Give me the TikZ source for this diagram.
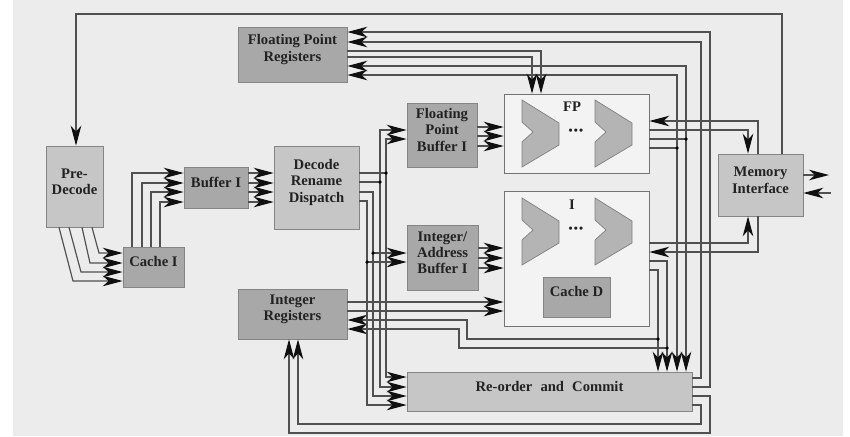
\documentclass[tikz,border=0pt]{standalone}
\usepackage{fontspec}
\setmainfont{Liberation Serif}
\usetikzlibrary{arrows.meta,fit}
\definecolor{bgc}{HTML}{ECECEC}
\definecolor{lightbox}{HTML}{C6C6C6}
\definecolor{darkbox}{HTML}{A8A8A8}
\definecolor{unitc}{HTML}{F3F3F3}
\definecolor{edgec}{HTML}{858585}
\definecolor{wirec}{HTML}{505050}
\definecolor{stagec}{HTML}{B4B4B4}
\definecolor{textc}{HTML}{222222}
\definecolor{tipc}{HTML}{101010}
\newcommand\stagepath[2]{\path[stg] (#1,#2) -- ++(37,23) -- ++(0,22) -- ++(-37,22) -- ++(0,-25) -- ++(11,-10) -- ++(-11,-10) -- cycle;}
\begin{document}
\begin{tikzpicture}[x=0.03cm,y=-0.03cm,
  lbl/.style={font=\bfseries\fontsize{12.5}{14}\selectfont, text=textc},
  boxbase/.style={draw=edgec, line width=0.6pt, inner sep=0pt, lbl, align=center},
  lbox/.style={boxbase, fill=lightbox},
  dbox/.style={boxbase, fill=darkbox},
  ubox/.style={boxbase, fill=unitc, draw=black!55},
  wire/.style={draw=wirec, line width=1pt},
  arr/.style={wire, -{Stealth[length=17pt,width=9pt,inset=5pt,color=tipc]}},
  stg/.style={fill=stagec, draw=black!50, line width=0.6pt}
]
\fill[white] (0,0) rectangle (850,436);
\fill[bgc] (13,0) rectangle (843,436);
\useasboundingbox (0,0) rectangle (850,436);

% boxes
\node[lbox, align=left, fit={(46,146) (103,227)}] (pre) {Pre-\\Decode};
\node[dbox, fit={(238,27) (347,82)}] (fpr) {Floating Point\\Registers};
\node[dbox, fit={(184,167) (248,208)}] (bi) {Buffer I};
\node[lbox, align=left, fit={(274,146) (359,229)}] (dec) {Decode\\Rename\\Dispatch};
\node[dbox, fit={(123,247) (184,287)}] (ci) {Cache I};
\node[dbox, fit={(407,103) (477,167)}] (fpb) {Floating\\Point\\Buffer I};
\node[dbox, fit={(407,225) (478,290)}] (iab) {Integer/\\Address\\Buffer I};
\node[dbox, fit={(238,289) (347,339)}] (ir) {Integer\\Registers};
\node[lbox, fit={(407,372) (692,411)}] (ro) {Re-order\hspace{0.55em}and\hspace{0.55em}Commit};
\node[ubox, fit={(504,94) (649,173)}] (fpu) {};
\node[ubox, fit={(504,191) (649,326)}] (iu) {};
\node[dbox, fit={(543,277) (610,317)}] (cd) {Cache D};
\node[lbox, fit={(718,154) (803,216)}] (mi) {Memory\\Interface};

% pipeline stages
\stagepath{522}{100}
\stagepath{595}{100}
\stagepath{522}{198}
\stagepath{595}{198}
\node[lbl] (fplab) at (572,107) {FP};
\node[lbl] (ilab) at (572,205) {I};
\node[lbl, font=\bfseries\fontsize{10}{10}\selectfont] (fpdots) at (576,132) {•\hspace{1pt}•\hspace{1pt}•};
\node[lbl, font=\bfseries\fontsize{10}{10}\selectfont] (idots) at (576,230) {•\hspace{1pt}•\hspace{1pt}•};

% top loop
\draw[arr] (mi.north -| 782,0) |- (76,14) -- (pre.north -| 76,0);

% FP registers
\draw[arr] (ro.east |- 0,387) -| (710,32) -- (fpr.east |- 0,32);
\draw[arr] (ro.east |- 0,378) -| (701,42) -- (fpr.east |- 0,42);
\draw[arr] (fpu.east |- 0,139) -- (686,139) -- (686,66) -- (fpr.east |- 0,66);
\draw[arr] (686,139) -- (ro.north -| 686,0);
\draw[arr] (fpu.east |- 0,148) -- (677,148) -- (677,75) -- (fpr.east |- 0,75);
\draw[arr] (677,148) -- (ro.north -| 677,0);
\draw[arr] (fpr.east |- 0,51) -| (fpu.north -| 541,0);
\draw[arr] (fpr.east |- 0,57) -| (fpu.north -| 532,0);

% memory interface
\draw[arr] (mi.north -| 758,0) |- (fpu.east |- 0,121);
\draw[arr] (fpu.east |- 0,130) -| (mi.north -| 748,0);
\draw[arr] (iu.east |- 0,243) -| (mi.south -| 748,0);
\draw[arr] (mi.south -| 758,0) |- (iu.east |- 0,252);
\coordinate (mout) at (829,175);
\coordinate (mext) at (831,193);
\draw[arr] (mi.east |- 0,175) -- (mout);
\draw[arr] (mext) -- (mi.east |- 0,193);

% integer unit and registers
\draw[arr] (iu.east |- 0,261) -| (ro.north -| 667,0);
\draw[arr] (iu.east |- 0,270) -| (ro.north -| 658,0);
\draw[arr] (658,339) -| (467,320) -- (ir.east |- 0,320);
\draw[arr] (667,348) -| (459,329) -- (ir.east |- 0,329);
\draw[arr] (ir.east |- 0,302) -- (iu.west |- 0,302);
\draw[arr] (ir.east |- 0,311) -- (iu.west |- 0,311);
\draw[arr] (ro.east |- 0,396) -| (710,433) -| (ir.south -| 289,0);
\draw[arr] (ro.east |- 0,405) -| (701,424) -| (ir.south -| 298,0);

% decode outputs
\draw[wire] (dec.east |- 0,173) -- (386,173);
\draw[arr] (386,173) |- (fpb.west |- 0,139);
\draw[arr] (386,173) |- (ro.west |- 0,377);
\draw[wire] (dec.east |- 0,182) -- (380,182);
\draw[arr] (380,182) |- (fpb.west |- 0,130);
\draw[arr] (380,182) |- (ro.west |- 0,387);
\draw[arr] (dec.east |- 0,192) -| (373,253) |- (ro.west |- 0,396);
\draw[arr] (373,253) -- (iab.west |- 0,253);
\draw[arr] (dec.east |- 0,201) -| (367,262) |- (ro.west |- 0,405);
\draw[arr] (367,262) -- (iab.west |- 0,262);

% buffers
\foreach \y in {127,136,146} \draw[arr] (fpb.east |- 0,\y) -- (fpu.west |- 0,\y);
\foreach \y in {248,258,268} \draw[arr] (iab.east |- 0,\y) -- (iu.west |- 0,\y);
\foreach \y in {173,183,192,202} \draw[arr] (bi.east |- 0,\y) -- (dec.west |- 0,\y);
\draw[arr] (ci.north -| 132,0) |- (bi.west |- 0,173);
\draw[arr] (ci.north -| 142,0) |- (bi.west |- 0,183);
\draw[arr] (ci.north -| 151,0) |- (bi.west |- 0,192);
\draw[arr] (ci.north -| 160,0) |- (bi.west |- 0,202);
\draw[arr] (pre.south -| 59,0) -- (73,281) -- (ci.west |- 0,281);
\draw[arr] (pre.south -| 69,0) -- (81,272) -- (ci.west |- 0,272);
\draw[arr] (pre.south -| 82,0) -- (90,263) -- (ci.west |- 0,263);
\draw[arr] (pre.south -| 92,0) -- (99,253) -- (ci.west |- 0,253);

% junctions
\foreach \p in {(386,173),(380,182),(373,253),(367,262),(686,139),(677,148),(658,339),(667,348)}
  \fill[black] \p circle[radius=1.5pt];
\end{tikzpicture}
\end{document}
